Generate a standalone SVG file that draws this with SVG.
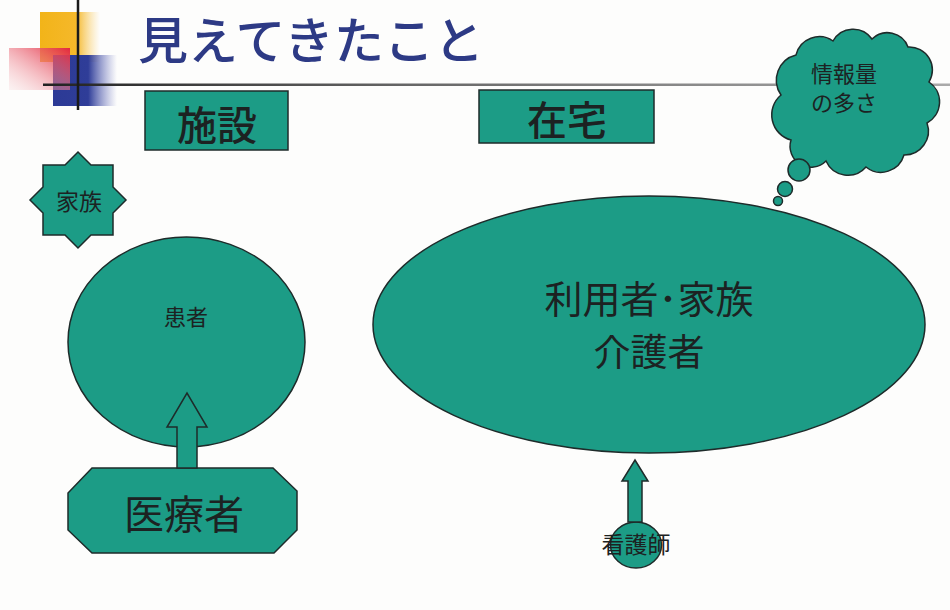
<svg xmlns="http://www.w3.org/2000/svg" width="950" height="610" viewBox="0 0 950 610">
<defs>
<style>
.sh{fill:#1c9c86;stroke:#1e2b2a;stroke-width:1.5}
.t{font-family:"Noto Sans CJK JP","Noto Sans CJK SC",sans-serif;fill:#1c2222;text-anchor:middle}
</style>
<linearGradient id="gy" x1="0" y1="0" x2="1" y2="0"><stop offset="0" stop-color="#f2b419"/><stop offset="0.6" stop-color="#f5b82a"/><stop offset="1" stop-color="#f8d070" stop-opacity="0"/></linearGradient>
<linearGradient id="gr" x1="1" y1="0" x2="0" y2="1"><stop offset="0" stop-color="#e3283e"/><stop offset="1" stop-color="#f6c8cc" stop-opacity="0.2"/></linearGradient>
<linearGradient id="gb" x1="0" y1="0" x2="1" y2="0"><stop offset="0" stop-color="#2c3a96"/><stop offset="0.55" stop-color="#2f3d98"/><stop offset="1" stop-color="#6a72c0" stop-opacity="0"/></linearGradient>
<linearGradient id="gl" x1="43" y1="0" x2="950" y2="0" gradientUnits="userSpaceOnUse"><stop offset="0" stop-color="#222"/><stop offset="0.4" stop-color="#666"/><stop offset="1" stop-color="#aaa"/></linearGradient>
</defs>
<rect width="950" height="610" fill="#fdfdfc"/>
<g id="decoration">
<rect x="40" y="12" width="60" height="50" fill="url(#gy)"/>
<rect x="53" y="55" width="64" height="51" fill="url(#gb)"/>
<rect x="9" y="48" width="61" height="42" fill="url(#gr)"/>
<rect x="43" y="83.5" width="907" height="2.5" fill="url(#gl)"/>
<line x1="78" y1="0" x2="78" y2="110" stroke="#1a1a1a" stroke-width="2.5"/>
</g>
<g id="title">
<text x="311" y="59" font-family="'Noto Sans CJK JP',sans-serif" font-size="50" font-weight="500" fill="#2d3a85" text-anchor="middle">見えてきたこと</text>
</g>
<g id="shisetsu">
<rect class="sh" x="145" y="91" width="143" height="59"/>
<text class="t" x="217" y="140" font-size="40" font-weight="500">施設</text>
</g>
<g id="zaitaku">
<rect class="sh" x="479" y="90" width="175" height="53"/>
<text class="t" x="567" y="135" font-size="40" font-weight="500">在宅</text>
</g>
<g id="kazoku">
<polygon class="sh" transform="translate(78,200)" points="0,-48 13,-35 35,-35 35,-13 48,0 35,13 35,35 13,35 0,48 -13,35 -35,35 -35,13 -48,0 -35,-13 -35,-35 -13,-35"/>
<text class="t" x="79" y="210" font-size="23">家族</text>
</g>
<g id="kanja">
<ellipse class="sh" cx="186.5" cy="342" rx="118.5" ry="105"/>
<text class="t" x="186" y="325" font-size="22">患者</text>
</g>
<g id="iryosha">
<polygon class="sh" points="92,468 273,468 297,491 297,530 274,553 92,553 68,530 68,493"/>
<text class="t" x="184" y="529" font-size="40">医療者</text>
</g>
<g id="riyosha">
<ellipse class="sh" cx="649" cy="324.5" rx="276" ry="128.5"/>
<text class="t" x="649" y="313" font-size="38">利用者･家族</text>
<text class="t" x="649" y="366" font-size="37">介護者</text>
</g>
<g id="johoryo">
<path class="sh" d="M781,95 A26,26 0 0 1 796,55 A24,24 0 0 1 833,41 A23,23 0 0 1 872,39 A22,22 0 0 1 908,47 A23,23 0 0 1 929,82 A24,24 0 0 1 927,123 A24,24 0 0 1 904,155 A24,24 0 0 1 866,167 A24,24 0 0 1 826,161 A21,21 0 0 1 791,140 A26,26 0 0 1 781,95 Z"/>
<circle class="sh" cx="799" cy="170" r="11"/>
<circle class="sh" cx="785" cy="189" r="7.5"/>
<circle class="sh" cx="778" cy="201" r="4.5"/>
<text class="t" x="844" y="82" font-size="22">情報量</text>
<text class="t" x="844" y="111" font-size="22">の多さ</text>
</g>
<g id="kangoshi">
<ellipse class="sh" cx="636" cy="545" rx="25.5" ry="23"/>
<text class="t" x="636" y="553" font-size="23">看護師</text>
</g>
<g id="connectors">
<polygon class="sh" points="177,468 177,427 167,427 187,393 207,427 197,427 197,468"/>
<polygon class="sh" points="628,522 628,481 622,481 635,460 648,481 642,481 642,522"/>
</g>
</svg>
